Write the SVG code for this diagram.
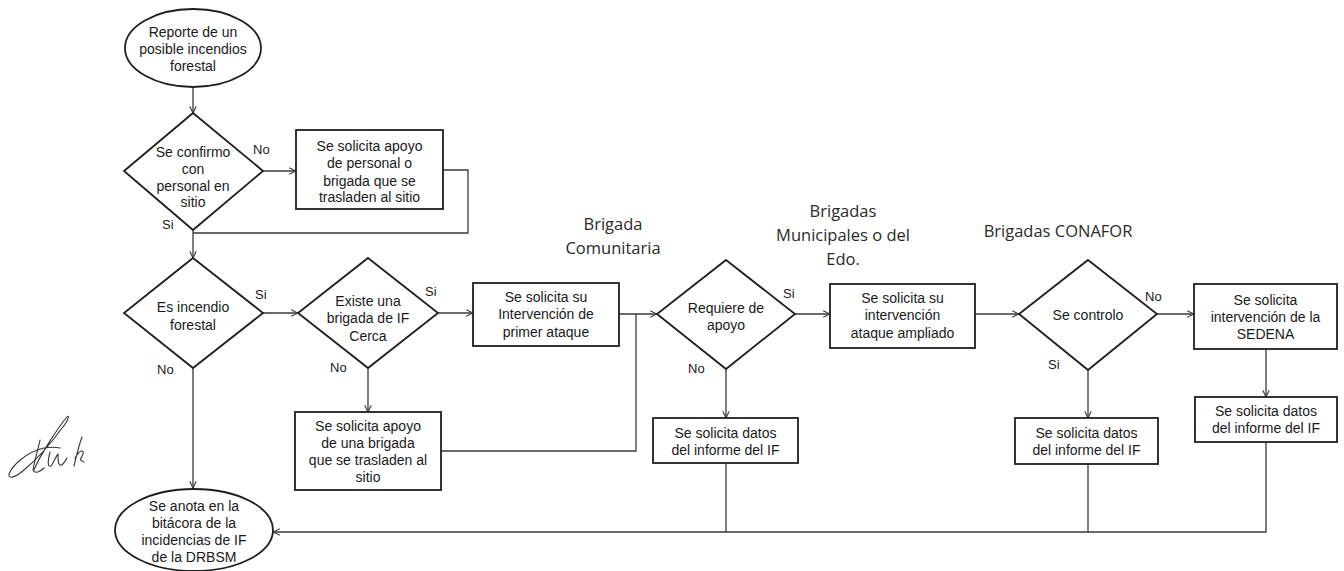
<svg xmlns="http://www.w3.org/2000/svg" width="1344" height="571" viewBox="0 0 1344 571">
<defs>
<style>
.shape{fill:#fff;stroke:#1e1e1e;stroke-width:1.8}
.conn{fill:none;stroke:#3a3a3a;stroke-width:1.3}
.t{font-family:"Liberation Sans",Arial,sans-serif;font-size:14px;fill:#1a1a1a;text-anchor:middle}
.lbl{font-family:"Liberation Sans",Arial,sans-serif;font-size:13px;fill:#1a1a1a}
.hd{font-family:"Open Sans","Liberation Sans",sans-serif;font-size:16.5px;fill:#2a2a2a;text-anchor:middle}
.sig{fill:none;stroke:#333;stroke-width:1.1;stroke-linecap:round;stroke-linejoin:round}
</style>
<marker id="arr" viewBox="0 0 10 10" refX="9.5" refY="5" markerWidth="8" markerHeight="8" markerUnits="userSpaceOnUse" orient="auto">
<path d="M1,1 L9.5,5 L1,9" fill="none" stroke="#3a3a3a" stroke-width="1.4"/>
</marker>
</defs>
<rect width="1344" height="571" fill="#fff"/>

<g id="connectors">
<path class="conn" d="M193,87 V113" marker-end="url(#arr)"/>
<path class="conn" d="M263,171 H296" marker-end="url(#arr)"/>
<path class="conn" d="M443,170 H468 V233 H193"/>
<path class="conn" d="M193,230 V258" marker-end="url(#arr)"/>
<path class="conn" d="M263,313 H298" marker-end="url(#arr)"/>
<path class="conn" d="M438,313 H473" marker-end="url(#arr)"/>
<path class="conn" d="M368,368 V412" marker-end="url(#arr)"/>
<path class="conn" d="M441,451 H636 V314"/>
<path class="conn" d="M619,314 H657" marker-end="url(#arr)"/>
<path class="conn" d="M795,314 H830" marker-end="url(#arr)"/>
<path class="conn" d="M726,369 V418" marker-end="url(#arr)"/>
<path class="conn" d="M975,314 H1019" marker-end="url(#arr)"/>
<path class="conn" d="M1157,314 H1194" marker-end="url(#arr)"/>
<path class="conn" d="M1088,370 V418" marker-end="url(#arr)"/>
<path class="conn" d="M1266,349 V397" marker-end="url(#arr)"/>
<path class="conn" d="M193,368 V488" marker-end="url(#arr)"/>
<path class="conn" d="M726,463 V532"/>
<path class="conn" d="M1088,464 V532"/>
<path class="conn" d="M1266,442 V532 H273" marker-end="url(#arr)"/>
</g>

<g id="labels">
<text class="lbl" x="253" y="154">No</text>
<text class="lbl" x="162" y="229">Si</text>
<text class="lbl" x="255" y="299">Si</text>
<text class="lbl" x="157" y="374">No</text>
<text class="lbl" x="425" y="296">Si</text>
<text class="lbl" x="330" y="372">No</text>
<text class="lbl" x="783" y="298">Si</text>
<text class="lbl" x="688" y="373">No</text>
<text class="lbl" x="1145" y="301">No</text>
<text class="lbl" x="1048" y="369">Si</text>
</g>

<g id="headings">
<text class="hd" x="613" y="230">Brigada</text>
<text class="hd" x="613" y="254">Comunitaria</text>
<text class="hd" x="843" y="217">Brigadas</text>
<text class="hd" x="843" y="241">Municipales o del</text>
<text class="hd" x="843" y="265">Edo.</text>
<text class="hd" x="1058" y="237">Brigadas CONAFOR</text>
</g>

<g id="n-reporte">
<ellipse class="shape" cx="193" cy="48" rx="68" ry="39"/>
<text class="t" x="193" y="37">Reporte de un</text>
<text class="t" x="193" y="54">posible incendios</text>
<text class="t" x="193" y="71">forestal</text>
</g>

<g id="n-confirmo">
<polygon class="shape" points="193,113 263,171 193,230 124,171"/>
<text class="t" x="193" y="157">Se confirmo</text>
<text class="t" x="193" y="174">con</text>
<text class="t" x="193" y="191">personal en</text>
<text class="t" x="193" y="207">sitio</text>
</g>

<g id="n-apoyo-personal">
<rect class="shape" x="296" y="130" width="147" height="79"/>
<text class="t" x="369.5" y="151">Se solicita apoyo</text>
<text class="t" x="369.5" y="168">de personal o</text>
<text class="t" x="369.5" y="186">brigada que se</text>
<text class="t" x="369.5" y="202">trasladen al sitio</text>
</g>

<g id="n-es-incendio">
<polygon class="shape" points="193,258 263,313 193,368 124,313"/>
<text class="t" x="193" y="312">Es incendio</text>
<text class="t" x="193" y="330">forestal</text>
</g>

<g id="n-existe">
<polygon class="shape" points="368,258 438,313 368,368 298,313"/>
<text class="t" x="368" y="306">Existe una</text>
<text class="t" x="368" y="323">brigada de IF</text>
<text class="t" x="368" y="341">Cerca</text>
</g>

<g id="n-apoyo-brigada">
<rect class="shape" x="295" y="412" width="146" height="78"/>
<text class="t" x="368" y="431">Se solicita apoyo</text>
<text class="t" x="368" y="448">de una brigada</text>
<text class="t" x="368" y="465">que se trasladen al</text>
<text class="t" x="368" y="482">sitio</text>
</g>

<g id="n-primer-ataque">
<rect class="shape" x="473" y="283" width="146" height="63"/>
<text class="t" x="546" y="302">Se solicita su</text>
<text class="t" x="546" y="319">Intervención de</text>
<text class="t" x="546" y="337">primer ataque</text>
</g>

<g id="n-requiere">
<polygon class="shape" points="726,260 795,314 726,369 657,314"/>
<text class="t" x="726" y="313">Requiere de</text>
<text class="t" x="726" y="330">apoyo</text>
</g>

<g id="n-datos-1">
<rect class="shape" x="653" y="418" width="145" height="45"/>
<text class="t" x="725.5" y="438">Se solicita datos</text>
<text class="t" x="725.5" y="455">del informe del IF</text>
</g>

<g id="n-ampliado">
<rect class="shape" x="830" y="284" width="145" height="64"/>
<text class="t" x="902.5" y="303">Se solicita su</text>
<text class="t" x="902.5" y="320">intervención</text>
<text class="t" x="902.5" y="338">ataque ampliado</text>
</g>

<g id="n-controlo">
<polygon class="shape" points="1088,260 1157,314 1088,370 1019,314"/>
<text class="t" x="1088" y="320">Se controlo</text>
</g>

<g id="n-datos-2">
<rect class="shape" x="1015" y="418" width="143" height="46"/>
<text class="t" x="1086.5" y="438">Se solicita datos</text>
<text class="t" x="1086.5" y="455">del informe del IF</text>
</g>

<g id="n-sedena">
<rect class="shape" x="1194" y="284" width="143" height="65"/>
<text class="t" x="1265.5" y="305">Se solicita</text>
<text class="t" x="1265.5" y="322">intervención de la</text>
<text class="t" x="1265.5" y="339">SEDENA</text>
</g>

<g id="n-datos-3">
<rect class="shape" x="1195" y="397" width="142" height="45"/>
<text class="t" x="1266" y="416">Se solicita datos</text>
<text class="t" x="1266" y="433">del informe del IF</text>
</g>

<g id="n-bitacora">
<ellipse class="shape" cx="194" cy="530" rx="79" ry="41"/>
<text class="t" x="194" y="511">Se anota en la</text>
<text class="t" x="194" y="528">bitácora de la</text>
<text class="t" x="194" y="545">incidencias de IF</text>
<text class="t" x="194" y="562">de la DRBSM</text>
</g>

<g id="signature">
<path class="sig" d="M34,470 C40,455 58,428 66,418 C70,413 69,420 62,428 C52,442 36,460 24,470 C16,477 8,480 9,474 C12,466 26,452 44,448 C50,447 56,447 60,448"/>
<path class="sig" d="M40,440 C38,450 34,462 33,470 C35,474 40,472 44,468"/>
<path class="sig" d="M50,452 C48,460 47,468 51,466 C54,462 56,456 58,454 C58,461 58,466 62,465 C64,463 66,460 67,458"/>
<path class="sig" d="M82,437 C78,448 76,458 74,466 M75,458 C79,451 84,448 83,454 C81,459 78,460 84,462"/>
</g>
</svg>
